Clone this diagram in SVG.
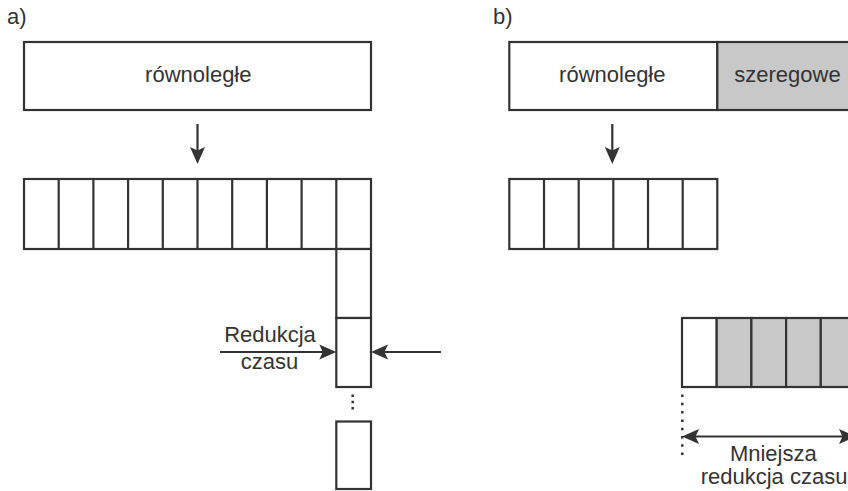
<svg xmlns="http://www.w3.org/2000/svg" width="848" height="491" viewBox="0 0 848 491">
<style>
.box{fill:#fff;stroke:#333;stroke-width:2.2}
.gray{fill:#c8c8c8;stroke:#333;stroke-width:2.2}
.ln{fill:none;stroke:#333;stroke-width:2.2}
.dot{fill:none;stroke:#333;stroke-width:2.5}
text{font-family:"Liberation Sans",Arial,sans-serif;font-size:22px;fill:#333}
.c{text-anchor:middle}
</style>
<defs>
<marker id="ah" viewBox="0 0 18 16" refX="13" refY="8" markerWidth="18" markerHeight="16" markerUnits="userSpaceOnUse" orient="auto-start-reverse">
<path d="M0,0.5 L17,8 L0,15.5 L3.5,8 Z" fill="#333"/>
</marker>
</defs>
<rect width="848" height="491" fill="#fff"/>

<g id="label-a"><text x="7" y="24">a)</text></g>
<g id="label-b"><text x="493" y="24">b)</text></g>

<g id="a-task">
<rect class="box" x="24" y="42" width="347" height="68"/>
<text class="c" x="198.3" y="82.3">równoległe</text>
</g>

<g id="a-row">
<rect class="box" x="24" y="179" width="347" height="70"/>
<path class="ln" d="M58.7,179V249M93.4,179V249M128.1,179V249M162.8,179V249M197.5,179V249M232.2,179V249M266.9,179V249M301.6,179V249M336.3,179V249"/>
</g>

<g id="a-column">
<rect class="box" x="336.3" y="249" width="34.7" height="69"/>
<rect class="box" x="336.3" y="318" width="34.7" height="69"/>
<line class="dot" x1="352.7" y1="394.5" x2="352.7" y2="410" stroke-dasharray="2.5 3.8"/>
<rect class="box" x="336.3" y="421.5" width="34.7" height="67.5"/>
</g>

<g id="a-label">
<text class="c" x="270" y="342">Redukcja</text>
<text class="c" x="269.5" y="369">czasu</text>
</g>

<g id="b-task">
<rect class="box" x="509.3" y="42" width="208" height="68"/>
<rect class="gray" x="717.3" y="42" width="150" height="68"/>
<text class="c" x="612.3" y="82.3">równoległe</text>
<text class="c" x="787.5" y="82.3">szeregowe</text>
</g>

<g id="b-row">
<rect class="box" x="509.3" y="179" width="208" height="70"/>
<path class="ln" d="M544,179V249M578.7,179V249M613.3,179V249M648,179V249M682.7,179V249"/>
</g>

<g id="b-serial-row">
<rect class="box" x="682" y="318" width="34.7" height="69"/>
<rect class="gray" x="716.7" y="318" width="34.7" height="69"/>
<rect class="gray" x="751.4" y="318" width="34.7" height="69"/>
<rect class="gray" x="786.1" y="318" width="34.7" height="69"/>
<rect class="gray" x="820.8" y="318" width="34.7" height="69"/>
</g>

<g id="b-label">
<text class="c" x="773.3" y="461">Mniejsza</text>
<text class="c" x="774" y="484">redukcja czasu</text>
</g>

<g id="connectors">
<line class="ln" x1="197.5" y1="124" x2="197.5" y2="160" marker-end="url(#ah)"/>
<line class="ln" x1="612.3" y1="124" x2="612.3" y2="160" marker-end="url(#ah)"/>
<line class="ln" x1="220" y1="352" x2="332.3" y2="352" marker-end="url(#ah)"/>
<line class="ln" x1="441" y1="352" x2="375" y2="352" marker-end="url(#ah)"/>
<line class="dot" x1="682.3" y1="394.5" x2="682.3" y2="456" stroke-dasharray="2.5 5.8"/>
<line class="ln" x1="686" y1="436.5" x2="852" y2="436.5" marker-start="url(#ah)" marker-end="url(#ah)"/>
</g>
</svg>
